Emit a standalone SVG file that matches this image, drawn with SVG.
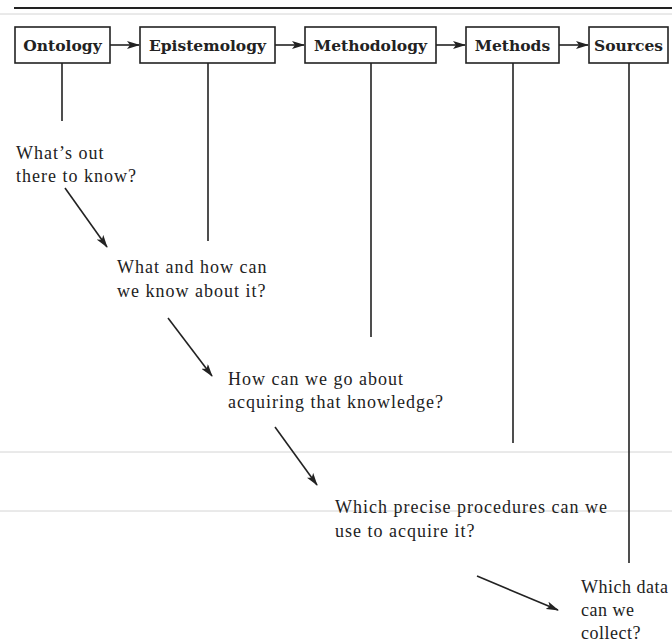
<svg xmlns="http://www.w3.org/2000/svg" width="672" height="642" viewBox="0 0 672 642">
<style>
.box{fill:#fff;stroke:#222;stroke-width:1.6}
.lbl{font-family:"DejaVu Serif","Liberation Serif",serif;font-weight:bold;font-size:15.5px;fill:#222;text-anchor:middle}
.q{font-family:"Liberation Serif","Times New Roman",serif;font-size:18px;fill:#222;letter-spacing:1px}
.ln{stroke:#222;stroke-width:1.6;fill:none}
.arr{stroke:#222;stroke-width:1.6;fill:none;marker-end:url(#ah)}
.scan{stroke:#d4d4d4;stroke-width:1}
</style>
<defs>
<marker id="ah" viewBox="0 0 13 8" refX="12" refY="4" markerWidth="13" markerHeight="8" markerUnits="userSpaceOnUse" orient="auto">
<path d="M0,0 L13,4 L0,8 L3,4 Z" fill="#222"/>
</marker>
</defs>
<rect width="672" height="642" fill="#fff"/>
<g id="rules">
<line x1="14" y1="8" x2="672" y2="8" stroke="#222" stroke-width="2"/>
<line class="scan" x1="0" y1="14" x2="672" y2="14"/>
<line class="scan" x1="0" y1="452" x2="672" y2="452"/>
<line class="scan" x1="0" y1="511" x2="672" y2="511"/>
</g>
<g id="ontology"><rect class="box" x="15" y="27" width="95" height="36"/><text class="lbl" x="62.5" y="51">Ontology</text></g>
<g id="epistemology"><rect class="box" x="140" y="27" width="135" height="36"/><text class="lbl" x="207.5" y="51">Epistemology</text></g>
<g id="methodology"><rect class="box" x="305" y="27" width="131" height="36"/><text class="lbl" x="370.5" y="51">Methodology</text></g>
<g id="methods"><rect class="box" x="466" y="27" width="93" height="36"/><text class="lbl" x="512.5" y="51">Methods</text></g>
<g id="sources"><rect class="box" x="589" y="27" width="79" height="36"/><text class="lbl" x="628.5" y="51">Sources</text></g>
<g id="connectors">
<line class="arr" x1="110" y1="45" x2="139" y2="45"/>
<line class="arr" x1="275" y1="45" x2="304" y2="45"/>
<line class="arr" x1="436" y1="45" x2="465" y2="45"/>
<line class="arr" x1="559" y1="45" x2="588" y2="45"/>
<line class="ln" x1="62" y1="63" x2="62" y2="121"/>
<line class="ln" x1="208" y1="63" x2="208" y2="241"/>
<line class="ln" x1="371" y1="63" x2="371" y2="337"/>
<line class="ln" x1="513" y1="63" x2="513" y2="443"/>
<line class="ln" x1="629" y1="63" x2="629" y2="563"/>
<line class="arr" x1="65" y1="188" x2="107" y2="247"/>
<line class="arr" x1="168" y1="318" x2="212" y2="376"/>
<line class="arr" x1="275" y1="427" x2="317" y2="485"/>
<line class="arr" x1="477" y1="576" x2="558" y2="610"/>
</g>
<g id="q1"><text class="q" x="16" y="159">What’s out</text><text class="q" x="16" y="182">there to know?</text></g>
<g id="q2"><text class="q" x="117" y="273">What and how can</text><text class="q" x="117" y="297">we know about it?</text></g>
<g id="q3"><text class="q" x="228" y="385">How can we go about</text><text class="q" x="228" y="408">acquiring that knowledge?</text></g>
<g id="q4"><text class="q" x="335" y="513">Which precise procedures can we</text><text class="q" x="335" y="537">use to acquire it?</text></g>
<g id="q5"><text class="q" x="581" y="593" style="letter-spacing:0.5px">Which data</text><text class="q" x="581" y="616" style="letter-spacing:0.5px">can we</text><text class="q" x="581" y="639" style="letter-spacing:0.5px">collect?</text></g>
</svg>
